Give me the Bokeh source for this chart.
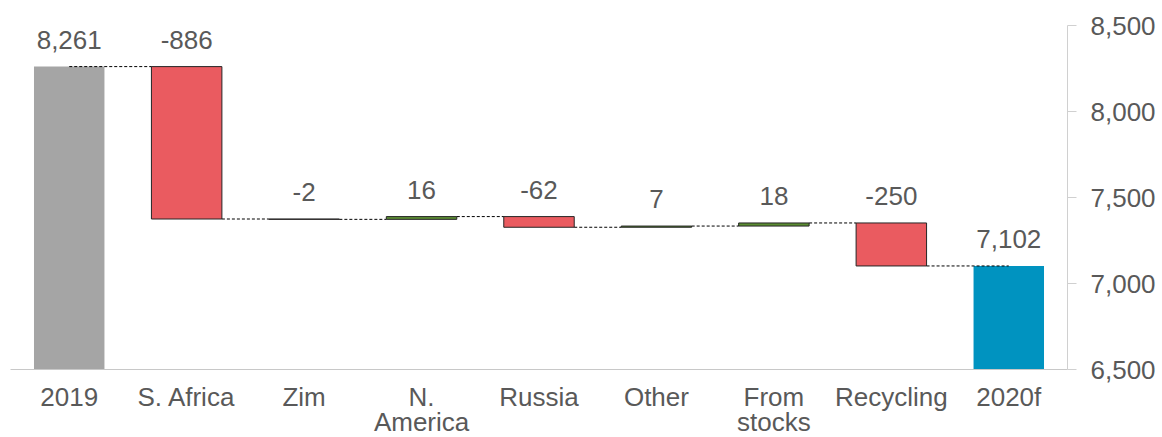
import json
from bokeh.plotting import figure
from bokeh.models import (ColumnDataSource, FactorRange, Range1d, NumeralTickFormatter,
                          FixedTicker, CategoricalAxis, CustomJSTickFormatter)
from bokeh.core.properties import value
from bokeh.embed import file_html
from bokeh.resources import INLINE

# Waterfall data: opening total, changes, closing total
categories = ["2019", "S. Africa", "Zim", "N. America", "Russia", "Other", "From stocks", "Recycling", "2020f"]
label_line1 = ["2019", "S. Africa", "Zim", "N.", "Russia", "Other", "From", "Recycling", "2020f"]
label_line2 = ["", "", "", "America", "", "", "stocks", "", ""]
opening_total = 8261
changes = [-886, -2, 16, -62, 7, 18, -250]
closing_total = 7102
y_ticks = [6500, 7000, 7500, 8000, 8500]

FONT = "Liberation Sans"
FONT_SIZE = "26px"
TEXT_COLOR = "#595959"
GREY = "#A5A5A5"
RED = "#EA5B60"
GREEN = "#5B8C32"
BLUE = "#0093C0"
EDGE = "#262626"

# Build bar extents from the running level
bottoms, tops, fills, edges, labels = [], [], [], [], []
bottoms.append(0)
tops.append(opening_total)
fills.append(GREY)
edges.append(None)
labels.append(f"{opening_total:,}")
level = opening_total
for c in changes:
    bottoms.append(level)
    tops.append(level + c)
    fills.append(RED if c < 0 else GREEN)
    edges.append(EDGE)
    labels.append(f"{c:,}")
    level += c
bottoms.append(0)
tops.append(closing_total)
fills.append(BLUE)
edges.append(None)
labels.append(f"{closing_total:,}")

label_y = [max(b, t) for b, t in zip(bottoms, tops)]

source = ColumnDataSource(dict(x=categories, bottom=bottoms, top=tops,
                               fill=fills, edge=edges, label=labels, ly=label_y))

p = figure(x_range=FactorRange(*categories), y_range=Range1d(6500, 8500),
           y_axis_location="right", output_backend="svg", toolbar_location=None,
           frame_width=1057, frame_height=344,
           min_border_left=10, min_border_top=25, min_border_right=95, min_border_bottom=0,
           background_fill_color="white", border_fill_color="white")
p.outline_line_color = None
p.xgrid.visible = False
p.ygrid.visible = False

bar_w = 0.6
p.vbar(x="x", width=bar_w, bottom="bottom", top="top", source=source,
       fill_color="fill", line_color="edge", line_width=1)

# Dashed connectors between consecutive bars at the running level
x0s, x1s, ys = [], [], []
n = len(categories)
for i in range(n - 1):
    lvl = tops[i]
    start = i + 0.5 if i == 0 else i + 0.5 + bar_w / 2
    end = i + 1.5 if i + 1 == n - 1 else i + 1.5 - bar_w / 2
    x0s.append(start)
    x1s.append(end)
    ys.append(lvl)
p.segment(x0=x0s, y0=ys, x1=x1s, y1=ys, line_color="black", line_width=1, line_dash="3 2")

# Value labels above each bar
p.text(x="x", y="ly", text="label", source=source, text_align="center",
       text_baseline="alphabetic", y_offset=-27, text_font=value(FONT),
       text_font_size=FONT_SIZE, text_color=TEXT_COLOR)

# Right value axis
ya = p.yaxis[0]
ya.ticker = FixedTicker(ticks=y_ticks)
ya.formatter = NumeralTickFormatter(format="0,0")
ya.axis_line_color = "#D0D0D0"
ya.major_tick_line_color = "#D0D0D0"
ya.major_tick_out = 9
ya.major_tick_in = 0
ya.minor_tick_line_color = None
ya.major_label_standoff = 14
ya.major_label_text_font = FONT
ya.major_label_text_font_size = FONT_SIZE
ya.major_label_text_color = TEXT_COLOR


def line_formatter(texts):
    mapping = json.dumps(dict(zip(categories, texts)))
    return CustomJSTickFormatter(code=f"const m = {mapping}; return (tick in m) ? m[tick] : tick;")


def style_cat_axis(ax, texts, standoff):
    ax.formatter = line_formatter(texts)
    ax.major_tick_line_color = None
    ax.major_tick_out = 0
    ax.major_tick_in = 0
    ax.minor_tick_line_color = None
    ax.major_label_standoff = standoff
    ax.major_label_text_font = FONT
    ax.major_label_text_font_size = FONT_SIZE
    ax.major_label_text_color = TEXT_COLOR


# Category axis (first line of each label)
xa = p.xaxis[0]
xa.axis_line_color = "#C8C8C8"
style_cat_axis(xa, label_line1, 12)

# Second line for the two-line category labels
xa2 = CategoricalAxis()
xa2.axis_line_color = None
style_cat_axis(xa2, label_line2, -8)
p.add_layout(xa2, "below")

open("out.html", "w").write(file_html(p, INLINE))
